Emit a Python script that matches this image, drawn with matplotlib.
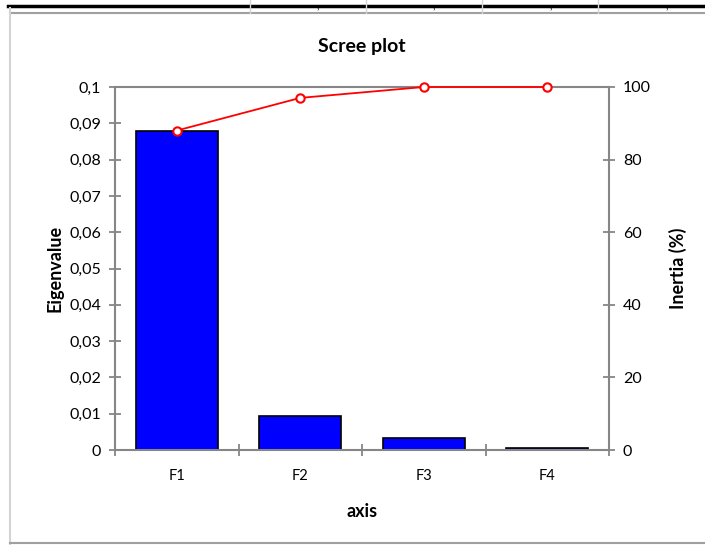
#!/usr/bin/env python3
"""Scree plot: eigenvalue bars with cumulative inertia line on a second axis."""

import matplotlib

matplotlib.use("Agg")
import matplotlib.pyplot as plt
from matplotlib.lines import Line2D
from matplotlib.ticker import FuncFormatter, MultipleLocator

factors = ["F1", "F2", "F3", "F4"]
eigenvalues = [0.0880, 0.0094, 0.0033, 0.0005]
cumulative_inertia = [88.0, 97.0, 100.0, 100.0]

plt.rcParams["font.family"] = ["Lato", "DejaVu Sans"]
GREY = "#868686"


def comma(value, _pos):
    text = f"{value:.2f}".rstrip("0").rstrip(".")
    return text.replace(".", ",")


fig = plt.figure(figsize=(7.05, 5.45), dpi=100)
ax = fig.add_axes([115 / 705, 1 - 450 / 545, 494 / 705, 363 / 545])

x = list(range(len(factors)))
ax.bar(x, eigenvalues, width=0.66, color="#0000ff", edgecolor="black", linewidth=1.2, zorder=2)
ax.set_xlim(-0.5, len(factors) - 0.5)
ax.set_ylim(0, 0.1)
ax.yaxis.set_major_locator(MultipleLocator(0.01))
ax.yaxis.set_major_formatter(FuncFormatter(comma))
ax.set_xticks(x)
ax.set_xticklabels(factors)
ax.set_xticks([i - 0.5 for i in range(len(factors) + 1)], minor=True)
ax.tick_params(axis="x", which="major", length=0, pad=14, labelsize=10.5)
ax.tick_params(axis="x", which="minor", direction="inout", length=8, width=1.3, color=GREY)
ax.tick_params(axis="y", direction="inout", length=8, width=1.3, color=GREY, labelsize=11.5, pad=6)
for side in ("left", "bottom", "top"):
    ax.spines[side].set_color(GREY)
    ax.spines[side].set_linewidth(1.5)
ax.spines["right"].set_visible(False)
ax.set_ylabel("Eigenvalue", fontsize=13, fontweight="bold", labelpad=4)
ax.set_xlabel("axis", fontsize=13, fontweight="bold", labelpad=14)
ax.set_title("Scree plot", fontsize=14, fontweight="bold", pad=25)

ax2 = ax.twinx()
ax2.plot(x, cumulative_inertia, color="red", linewidth=1.3, marker="o", markersize=6,
         markerfacecolor="white", markeredgecolor="red", markeredgewidth=1.5, clip_on=False, zorder=3)
ax2.set_ylim(0, 100)
ax2.yaxis.set_major_locator(MultipleLocator(20))
ax2.tick_params(axis="y", direction="inout", length=8, width=1.3, color=GREY, labelsize=11.5, pad=6)
for side in ("left", "bottom", "top"):
    ax2.spines[side].set_visible(False)
ax2.spines["right"].set_color(GREY)
ax2.spines["right"].set_linewidth(1.5)
ax2.set_ylabel("Inertia (%)", fontsize=13, fontweight="bold", labelpad=13)

# spreadsheet cell borders around the chart
W, H = 705, 545


def px_line(x0, y0, x1, y1, color, lw):
    fig.add_artist(Line2D([x0 / W, x1 / W], [1 - y0 / H, 1 - y1 / H], color=color, linewidth=lw,
                          transform=fig.transFigure))


px_line(8, 6, 705, 6, "black", 2.5)
px_line(10, 13, 705, 13, "#a0a0a0", 1.5)
px_line(10, 8, 10, 545, "#d4d4d4", 1.5)
px_line(10, 543, 705, 543, "#a0a0a0", 1.5)
for xc in (250, 366, 482, 598):
    px_line(xc, 0, xc, 13, "#d4d4d4", 1.0)
for xc in (318, 434, 551, 667):
    fig.text(xc / W, 1 - 0.5 / H, ",", fontsize=8, ha="center", va="top")

fig.savefig("out.png", dpi=100)
